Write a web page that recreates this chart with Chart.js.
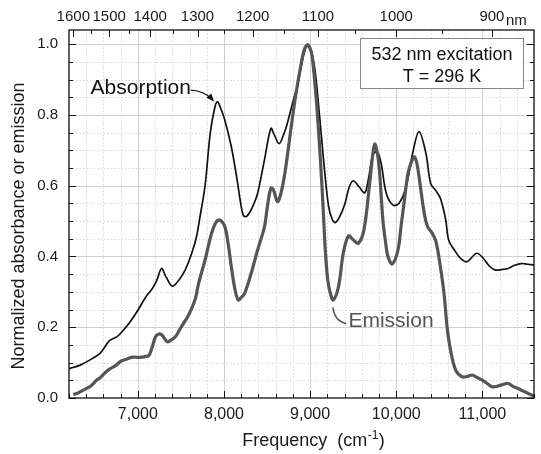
<!doctype html>
<html lang="en">
<head>
<meta charset="UTF-8">
<title>Absorption and emission spectra</title>
<script src="https://cdn.jsdelivr.net/npm/chart.js@4.4.0/dist/chart.umd.min.js"></script>
<style>
    html, body { margin: 0; padding: 0; background: #fff; }
    #chart { display: block; }
</style>
</head>
<body>
<canvas id="chart" width="541" height="454"></canvas>
<script>
// wavenumber (cm-1) and normalized value
var absFreq = [6200, 6330, 6440, 6560, 6670, 6750, 6800, 6900, 7000, 7090, 7170, 7220, 7275, 7325, 7400, 7475, 7550, 7625, 7680, 7715,
    7780, 7840, 7895, 7925, 7955, 8010, 8085, 8150, 8195, 8225, 8260, 8300, 8345, 8390, 8470, 8545, 8585, 8640, 8690, 8735, 8815, 8850,
    8885, 8930, 8975, 9045, 9100, 9160, 9215, 9260, 9295, 9345, 9405, 9450, 9500, 9565, 9635, 9680, 9730, 9780, 9825, 9885, 9965,
    10035, 10115, 10190, 10265, 10345, 10400, 10460, 10515, 10575, 10610, 10690, 10745, 10820, 10935, 11010, 11080, 11145, 11225, 11300, 11375,
    11455, 11525, 11600];
var absValue = [0.083, 0.093, 0.107, 0.126, 0.162, 0.172, 0.183, 0.212, 0.248, 0.285, 0.31, 0.333, 0.366, 0.343, 0.316, 0.333, 0.362, 0.409, 0.455, 0.503,
    0.6, 0.748, 0.823, 0.837, 0.823, 0.785, 0.71, 0.62, 0.548, 0.516, 0.513, 0.525, 0.548, 0.578, 0.673, 0.762, 0.743, 0.719, 0.743, 0.776, 0.851, 0.88,
    0.923, 0.974, 1.0, 0.945, 0.823, 0.663, 0.541, 0.503, 0.496, 0.513, 0.55, 0.593, 0.614, 0.598, 0.58, 0.623, 0.688, 0.696, 0.663, 0.578, 0.545,
    0.551, 0.597, 0.691, 0.753, 0.691, 0.606, 0.586, 0.563, 0.503, 0.446, 0.413, 0.395, 0.385, 0.409, 0.395, 0.373, 0.362, 0.363, 0.366, 0.375,
    0.38, 0.378, 0.376];

var emiFreq = [6250, 6305, 6350, 6405, 6450, 6520, 6565, 6635, 6680, 6750, 6795, 6860, 6925, 7015, 7085, 7130, 7165, 7205, 7245, 7280,
    7340, 7380, 7435, 7485, 7530, 7575, 7625, 7670, 7705, 7780, 7855, 7910, 7955, 8010, 8050, 8085, 8130, 8165, 8195, 8240,
    8315, 8390, 8470, 8505, 8545, 8575, 8620, 8655, 8700, 8735, 8775, 8830, 8890, 8930, 8965, 9000, 9025, 9075, 9120, 9150,
    9175, 9205, 9235, 9270, 9330, 9385, 9445, 9500, 9560, 9625, 9690, 9725, 9750, 9780, 9805, 9845, 9875, 9905, 9955, 10020,
    10055, 10095, 10135, 10170, 10210, 10240, 10265, 10325, 10365, 10420, 10460, 10495, 10555, 10590, 10630, 10690, 10765, 10825, 10880, 10940,
    10995, 11045, 11110, 11170, 11225, 11300, 11355, 11415, 11470, 11530, 11600];
var emiValue = [0.01, 0.014, 0.02, 0.027, 0.033, 0.05, 0.058, 0.075, 0.083, 0.093, 0.103, 0.109, 0.115, 0.115, 0.117, 0.121, 0.143, 0.173, 0.181, 0.178,
    0.159, 0.163, 0.173, 0.193, 0.211, 0.228, 0.253, 0.283, 0.324, 0.39, 0.465, 0.498, 0.503, 0.484, 0.433, 0.371, 0.303, 0.277, 0.283, 0.296,
    0.352, 0.418, 0.484, 0.543, 0.593, 0.588, 0.555, 0.573, 0.625, 0.683, 0.757, 0.851, 0.936, 0.983, 0.997, 0.988, 0.964, 0.833, 0.672, 0.543,
    0.423, 0.333, 0.296, 0.277, 0.315, 0.409, 0.458, 0.447, 0.437, 0.475, 0.603, 0.683, 0.718, 0.693, 0.644, 0.503, 0.443, 0.399, 0.379, 0.418,
    0.483, 0.559, 0.633, 0.663, 0.682, 0.663, 0.625, 0.523, 0.484, 0.465, 0.443, 0.399, 0.296, 0.202, 0.136, 0.079, 0.06, 0.061, 0.065, 0.058,
    0.051, 0.043, 0.032, 0.033, 0.037, 0.041, 0.033, 0.027, 0.02, 0.013, 0.005];

// top axis in wavelength
var nmMajor = [1600, 1500, 1400, 1300, 1200, 1100, 1000, 900];
var nmMinor = [1550, 1450, 1350, 1250, 1150, 1050, 950, 850];

var boxLines = ['532 nm excitation', 'T = 296 K'];

var FONT = 'Liberation Sans, Arial, Helvetica, sans-serif';
Chart.defaults.font.family = FONT;
Chart.defaults.color = '#1a1a1a';

function pairs(xs, ys) {
    return xs.map(function (f, i) { return { x: f, y: ys[i] }; });
}

// grid, inward ticks, frame and the text labels
var spectrumDecor = {
    id: 'spectrumDecor',
    beforeDatasetsDraw: function (chart) {
        var ctx = chart.ctx, a = chart.chartArea, x = chart.scales.x, y = chart.scales.y;
        ctx.save();
        ctx.lineWidth = 1;
        for (var f = 6200; f <= 11600; f += 200) {
            var px = Math.round(x.getPixelForValue(f)) + 0.5;
            var major = f % 1000 === 0;
            ctx.strokeStyle = major ? '#d0d0d0' : '#d6d6d6';
            ctx.setLineDash(major ? [] : [1.5, 2]);
            ctx.beginPath(); ctx.moveTo(px, a.top); ctx.lineTo(px, a.bottom); ctx.stroke();
        }
        for (var i = 1; i <= 20; i++) {
            var py = Math.round(y.getPixelForValue(i * 0.05)) + 0.5;
            var maj = i % 4 === 0;
            ctx.strokeStyle = maj ? '#d0d0d0' : '#d6d6d6';
            ctx.setLineDash(maj ? [] : [1.5, 2]);
            ctx.beginPath(); ctx.moveTo(a.left, py); ctx.lineTo(a.right, py); ctx.stroke();
        }
        ctx.restore();
    },
    afterDatasetsDraw: function (chart) {
        var ctx = chart.ctx, a = chart.chartArea, x = chart.scales.x, y = chart.scales.y;
        ctx.save();
        ctx.setLineDash([]);
        ctx.strokeStyle = '#111';
        ctx.lineWidth = 1;

        // ticks pointing into the plot
        ctx.beginPath();
        for (var f = 6200; f <= 11600; f += 200) {
            var px = Math.round(x.getPixelForValue(f)) + 0.5;
            var len = f % 1000 === 0 ? 7 : 4;
            ctx.moveTo(px, a.bottom); ctx.lineTo(px, a.bottom - len);
        }
        for (var i = 0; i <= 20; i++) {
            var py = Math.round(y.getPixelForValue(i * 0.05)) + 0.5;
            var l2 = i % 4 === 0 ? 7 : 4;
            ctx.moveTo(a.left, py); ctx.lineTo(a.left + l2, py);
            ctx.moveTo(a.right, py); ctx.lineTo(a.right - l2, py);
        }
        nmMajor.forEach(function (nm) {
            var tx = Math.round(x.getPixelForValue(1e7 / nm)) + 0.5;
            ctx.moveTo(tx, a.top); ctx.lineTo(tx, a.top + 7);
        });
        nmMinor.forEach(function (nm) {
            var v = 1e7 / nm;
            if (v > x.max) return;
            var tx = Math.round(x.getPixelForValue(v)) + 0.5;
            ctx.moveTo(tx, a.top); ctx.lineTo(tx, a.top + 4);
        });
        ctx.stroke();

        // frame
        ctx.lineWidth = 1.3;
        ctx.strokeRect(a.left, a.top, a.right - a.left, a.bottom - a.top);

        // Absorption label with arrow
        ctx.fillStyle = '#111';
        ctx.font = '21px ' + FONT;
        ctx.textAlign = 'left';
        ctx.textBaseline = 'alphabetic';
        ctx.fillText('Absorption', x.getPixelForValue(6450), y.getPixelForValue(0.86));
        var s = [x.getPixelForValue(7615), y.getPixelForValue(0.87)];
        var c = [x.getPixelForValue(7775), y.getPixelForValue(0.868)];
        var e = [x.getPixelForValue(7870), y.getPixelForValue(0.842)];
        ctx.lineWidth = 1.2;
        ctx.beginPath(); ctx.moveTo(s[0], s[1]); ctx.quadraticCurveTo(c[0], c[1], e[0], e[1]); ctx.stroke();
        var ang = Math.atan2(e[1] - c[1], e[0] - c[0]);
        ctx.beginPath();
        ctx.moveTo(e[0] + 2 * Math.cos(ang), e[1] + 2 * Math.sin(ang));
        ctx.lineTo(e[0] - 6 * Math.cos(ang) + 3.2 * Math.sin(ang), e[1] - 6 * Math.sin(ang) - 3.2 * Math.cos(ang));
        ctx.lineTo(e[0] - 6 * Math.cos(ang) - 3.2 * Math.sin(ang), e[1] - 6 * Math.sin(ang) + 3.2 * Math.cos(ang));
        ctx.closePath(); ctx.fill();

        // Emission label with leader
        ctx.fillStyle = '#555';
        ctx.strokeStyle = '#555';
        ctx.fillText('Emission', x.getPixelForValue(9445), y.getPixelForValue(0.2));
        ctx.lineWidth = 1.4;
        ctx.beginPath();
        ctx.moveTo(x.getPixelForValue(9265), y.getPixelForValue(0.256));
        ctx.quadraticCurveTo(x.getPixelForValue(9280), y.getPixelForValue(0.218),
            x.getPixelForValue(9420), y.getPixelForValue(0.21));
        ctx.stroke();

        // info box
        var bx = a.right - 174, by = a.top + 8;
        ctx.fillStyle = '#fff';
        ctx.fillRect(bx, by, 163, 50);
        ctx.strokeStyle = '#888';
        ctx.lineWidth = 1;
        ctx.strokeRect(bx + 0.5, by + 0.5, 163, 50);
        ctx.fillStyle = '#111';
        ctx.font = '18px ' + FONT;
        ctx.textAlign = 'center';
        ctx.fillText(boxLines[0], bx + 82, by + 21.5);
        ctx.fillText(boxLines[1], bx + 82, by + 43.5);

        // unit on the top axis
        ctx.font = '15px ' + FONT;
        ctx.textAlign = 'left';
        ctx.fillStyle = '#1a1a1a';
        ctx.fillText('nm', x.getPixelForValue(1e7 / 900) + 14, 25);

        // axis titles
        ctx.fillStyle = '#1a1a1a';
        var t1 = 'Frequency  (cm', t3 = ')';
        ctx.font = '18px ' + FONT;
        var w1 = ctx.measureText(t1).width, w3 = ctx.measureText(t3).width;
        ctx.font = '12px ' + FONT;
        var w2 = ctx.measureText('-1').width;
        var x0 = 313 - (w1 + w2 + w3) / 2, base = 446;
        ctx.font = '18px ' + FONT;
        ctx.fillText(t1, x0, base);
        ctx.font = '12px ' + FONT;
        ctx.fillText('-1', x0 + w1 + 0.5, base - 7);
        ctx.font = '18px ' + FONT;
        ctx.fillText(t3, x0 + w1 + w2 + 1, base);

        ctx.translate(19, 226);
        ctx.rotate(-Math.PI / 2);
        ctx.textAlign = 'center';
        ctx.textBaseline = 'middle';
        ctx.fillText('Normalized absorbance or emission', 0, 0);
        ctx.restore();
    }
};

new Chart(document.getElementById('chart'), {
    type: 'line',
    data: {
        datasets: [{
            label: 'Emission',
            data: pairs(emiFreq, emiValue),
            borderColor: '#555',
            borderWidth: 3.2,
            pointRadius: 0,
            tension: 0.35,
            xAxisID: 'x',
            yAxisID: 'y'
        }, {
            label: 'Absorption',
            data: pairs(absFreq, absValue),
            borderColor: '#111',
            borderWidth: 1.7,
            pointRadius: 0,
            tension: 0.35,
            xAxisID: 'x',
            yAxisID: 'y'
        }]
    },
    options: {
        responsive: false,
        animation: false,
        events: [],
        layout: { padding: { left: 0, right: 1, top: 0, bottom: 0 } },
        plugins: { legend: { display: false }, tooltip: { enabled: false } },
        scales: {
            x: {
                type: 'linear',
                position: 'bottom',
                min: 6200,
                max: 11600,
                grid: { display: false, drawTicks: false },
                border: { display: false },
                ticks: {
                    stepSize: 200,
                    autoSkip: false,
                    maxRotation: 0,
                    padding: 7,
                    font: { size: 16 },
                    callback: function (v) { return v % 1000 === 0 ? v.toLocaleString('en-US') : ''; }
                },
                afterFit: function (s) { s.height = 56; }
            },
            x2: {
                type: 'linear',
                position: 'top',
                min: 6200,
                max: 11600,
                grid: { display: false, drawTicks: false },
                border: { display: false },
                afterBuildTicks: function (s) {
                    s.ticks = nmMajor.map(function (nm) { return { value: 1e7 / nm }; });
                },
                ticks: {
                    autoSkip: false,
                    maxRotation: 0,
                    padding: 4,
                    font: { size: 15 },
                    callback: function (v) { return String(Math.round(1e7 / v)); }
                },
                afterFit: function (s) { s.height = 30; }
            },
            y: {
                type: 'linear',
                position: 'left',
                min: 0,
                max: 1.04,
                grid: { display: false, drawTicks: false },
                border: { display: false },
                ticks: {
                    stepSize: 0.05,
                    includeBounds: false,
                    padding: 11,
                    font: { size: 15 },
                    callback: function (v) {
                        var k = Math.round(v * 100);
                        return k % 20 === 0 ? (k / 100).toFixed(1) : '';
                    }
                },
                afterFit: function (s) { s.width = 69; }
            }
        }
    },
    plugins: [spectrumDecor]
});
</script>
</body>
</html>
